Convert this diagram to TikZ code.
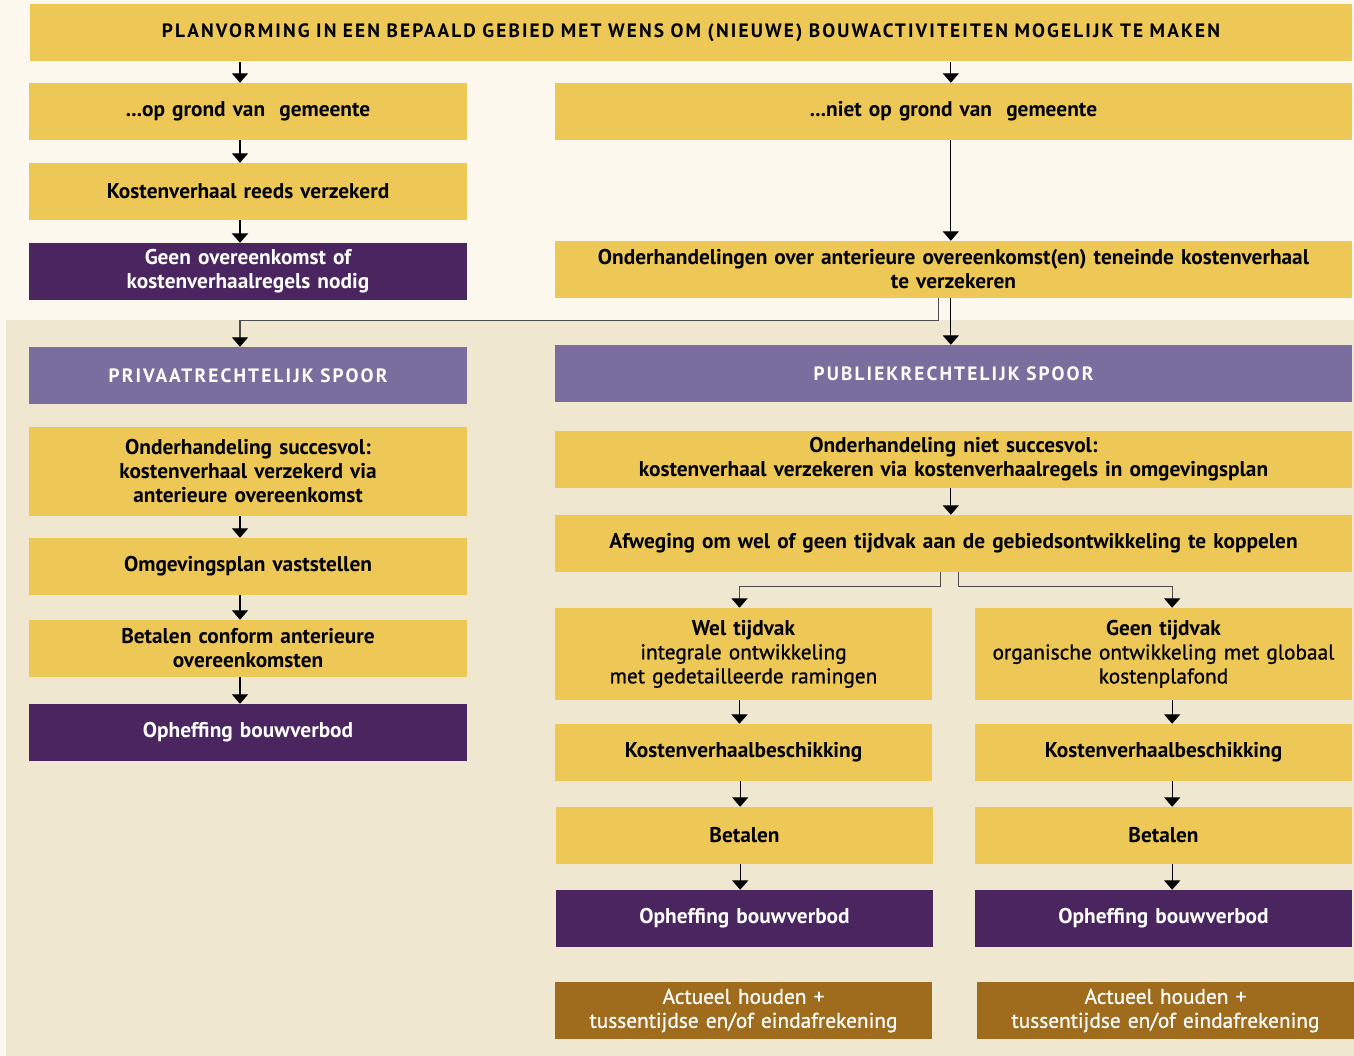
\documentclass[tikz,border=0pt]{standalone}
\usepackage{fontspec}
\setmainfont{PT Sans}
\newfontfamily\semifont{PT Sans}[FakeBold=0.8]
\newfontfamily\spacedfont{PT Sans}[LetterSpace=11]
\usetikzlibrary{positioning,arrows.meta,calc}

\definecolor{cream}{HTML}{FCF8EE}
\definecolor{beige}{HTML}{F0E7D1}
\definecolor{ochre}{HTML}{EDC857}
\definecolor{plum}{HTML}{4A2560}
\definecolor{lilac}{HTML}{7A6E9E}
\definecolor{bronze}{HTML}{9E6C1C}

\begin{document}
\begin{tikzpicture}[
    x=0.75pt, y=-0.75pt,
    block/.style={rectangle, fill=ochre, text centered, inner sep=0pt, minimum height=42.75pt,
        font=\fontsize{16}{18}\selectfont\bfseries},
    wide/.style={text width=590pt, minimum width=597.75pt},
    half/.style={text width=320pt, minimum width=328.5pt},
    third/.style={text width=278pt, minimum width=282.75pt},
    endblock/.style={block, fill=plum, text=white},
    track/.style={block, fill=lilac, text=white, font=\spacedfont\fontsize{14.5}{18}\selectfont\bfseries},
    keepblock/.style={block, fill=bronze, text=white, font=\semifont\fontsize{16}{18}\selectfont},
    arrow/.style={-{Triangle[length=7pt,width=12pt]}, line width=0.8pt},
    link/.style={-{Triangle[length=7pt,width=12pt,color=black]}, line width=0.8pt, draw=black!70}
]

% Background
\fill[cream] (0,0) rectangle (1354,1056);
\fill[beige] (6,320) rectangle (1354,1056);

% Title
\node[block, minimum width=991.5pt, text width=985pt, font=\spacedfont\fontsize{14.5}{18}\selectfont\bfseries] (top) at (691,33) {PLANVORMING IN EEN BEPAALD GEBIED MET WENS OM (NIEUWE) BOUWACTIVITEITEN MOGELIJK TE MAKEN};

% Grond gemeente
\node[block, half] (opgrond) at (248,111.5) {...op grond van\ \ gemeente};
\node[block, half] (reeds) at (248,191.5) {Kostenverhaal reeds verzekerd};
\node[endblock, half] (geen) at (248,271.5) {Geen overeenkomst of\\kostenverhaalregels nodig};

% Niet op grond gemeente
\node[block, wide] (nietop) at (953.5,111.5) {...niet op grond van\ \ gemeente};
\node[block, wide] (onderh) at (953.5,269.5) {Onderhandelingen over anterieure overeenkomst(en) teneinde kostenverhaal\\te verzekeren};

% Privaatrechtelijk spoor
\node[track, half] (priv) at (248,375.5) {PRIVAATRECHTELIJK SPOOR};
\node[block, half, minimum height=66.75pt] (succes) at (248,471.5) {Onderhandeling succesvol:\\kostenverhaal verzekerd via\\anterieure overeenkomst};
\node[block, half] (omgev) at (248,566.5) {Omgevingsplan vaststellen};
\node[block, half] (betconf) at (248,648.5) {Betalen conform anterieure\\overeenkomsten};
\node[endblock, half] (ophefP) at (248,732.5) {Opheffing bouwverbod};

% Publiekrechtelijk spoor
\node[track, wide] (publ) at (953.5,373.5) {PUBLIEKRECHTELIJK SPOOR};
\node[block, wide] (nietsucc) at (953.5,459.5) {Onderhandeling niet succesvol:\\kostenverhaal verzekeren via kostenverhaalregels in omgevingsplan};
\node[block, wide] (afweg) at (953.5,543.5) {Afweging om wel of geen tijdvak aan de gebiedsontwikkeling te koppelen};

% Wel tijdvak
\node[block, third, minimum height=69pt] (wel) at (743.5,654) {Wel tijdvak\\\semifont\mdseries integrale ontwikkeling\\met gedetailleerde ramingen};
\node[block, third] (kvbW) at (743.5,752.5) {Kostenverhaalbeschikking};
\node[block, third] (betW) at (744.5,835.5) {Betalen};
\node[endblock, third] (ophefW) at (744.5,918.5) {Opheffing bouwverbod};
\node[keepblock, third] (actW) at (743.5,1010.5) {Actueel houden +\\tussentijdse en/of eindafrekening};

% Geen tijdvak
\node[block, third, minimum height=69pt] (geentv) at (1163.5,654) {Geen tijdvak\\\semifont\mdseries organische ontwikkeling met globaal\\kostenplafond};
\node[block, third] (kvbG) at (1163.5,752.5) {Kostenverhaalbeschikking};
\node[block, third] (betG) at (1163.5,835.5) {Betalen};
\node[endblock, third] (ophefG) at (1163.5,918.5) {Opheffing bouwverbod};
\node[keepblock, third] (actG) at (1165.5,1010.5) {Actueel houden +\\tussentijdse en/of eindafrekening};

% Arrows
\draw[arrow] (top.south -| opgrond.north) ++(-6pt,0) -- ([xshift=-6pt]opgrond.north);
\draw[arrow] (top.south -| nietop.north) ++(-2pt,0) -- ([xshift=-2pt]nietop.north);
\draw[arrow] ([xshift=-6pt]opgrond.south) -- ([xshift=-6pt]reeds.north);
\draw[arrow, line width=2pt] ([xshift=-6pt]reeds.south) -- ([xshift=-6pt]geen.north);
\draw[arrow] ([xshift=-2pt]nietop.south) -- ([xshift=-2pt]onderh.north);
\draw[link] ([xshift=-11.5pt]onderh.south) -- ++(0,-17pt) -| ([xshift=-6pt]priv.north);
\draw[arrow] ([xshift=-2pt]onderh.south) -- ([xshift=-2pt]publ.north);

\draw[arrow] ([xshift=-6pt]succes.south) -- ([xshift=-6pt]omgev.north);
\draw[arrow] ([xshift=-6pt]omgev.south) -- ([xshift=-6pt]betconf.north);
\draw[arrow] ([xshift=-6pt]betconf.south) -- ([xshift=-6pt]ophefP.north);

\draw[arrow] ([xshift=-2pt]nietsucc.south) -- ([xshift=-2pt]afweg.north);
\draw[link] ([xshift=-9.5pt]afweg.south) -- ++(0,-10.5pt) -| ([xshift=-3pt]wel.north);
\draw[link] ([xshift=3.5pt]afweg.south) -- ++(0,-10.5pt) -| ([xshift=6.5pt]geentv.north);

\draw[arrow] ([xshift=-3pt]wel.south) -- ([xshift=-3pt]kvbW.north);
\draw[arrow] ([xshift=-2.5pt]kvbW.south) -- ([xshift=-3.25pt]betW.north);
\draw[arrow] ([xshift=-3.25pt]betW.south) -- ([xshift=-3.25pt]ophefW.north);
\draw[arrow] ([xshift=6.5pt]geentv.south) -- ([xshift=6.5pt]kvbG.north);
\draw[arrow] ([xshift=6.5pt]kvbG.south) -- ([xshift=6.5pt]betG.north);
\draw[arrow] ([xshift=6.5pt]betG.south) -- ([xshift=6.5pt]ophefG.north);

\end{tikzpicture}
\end{document}
